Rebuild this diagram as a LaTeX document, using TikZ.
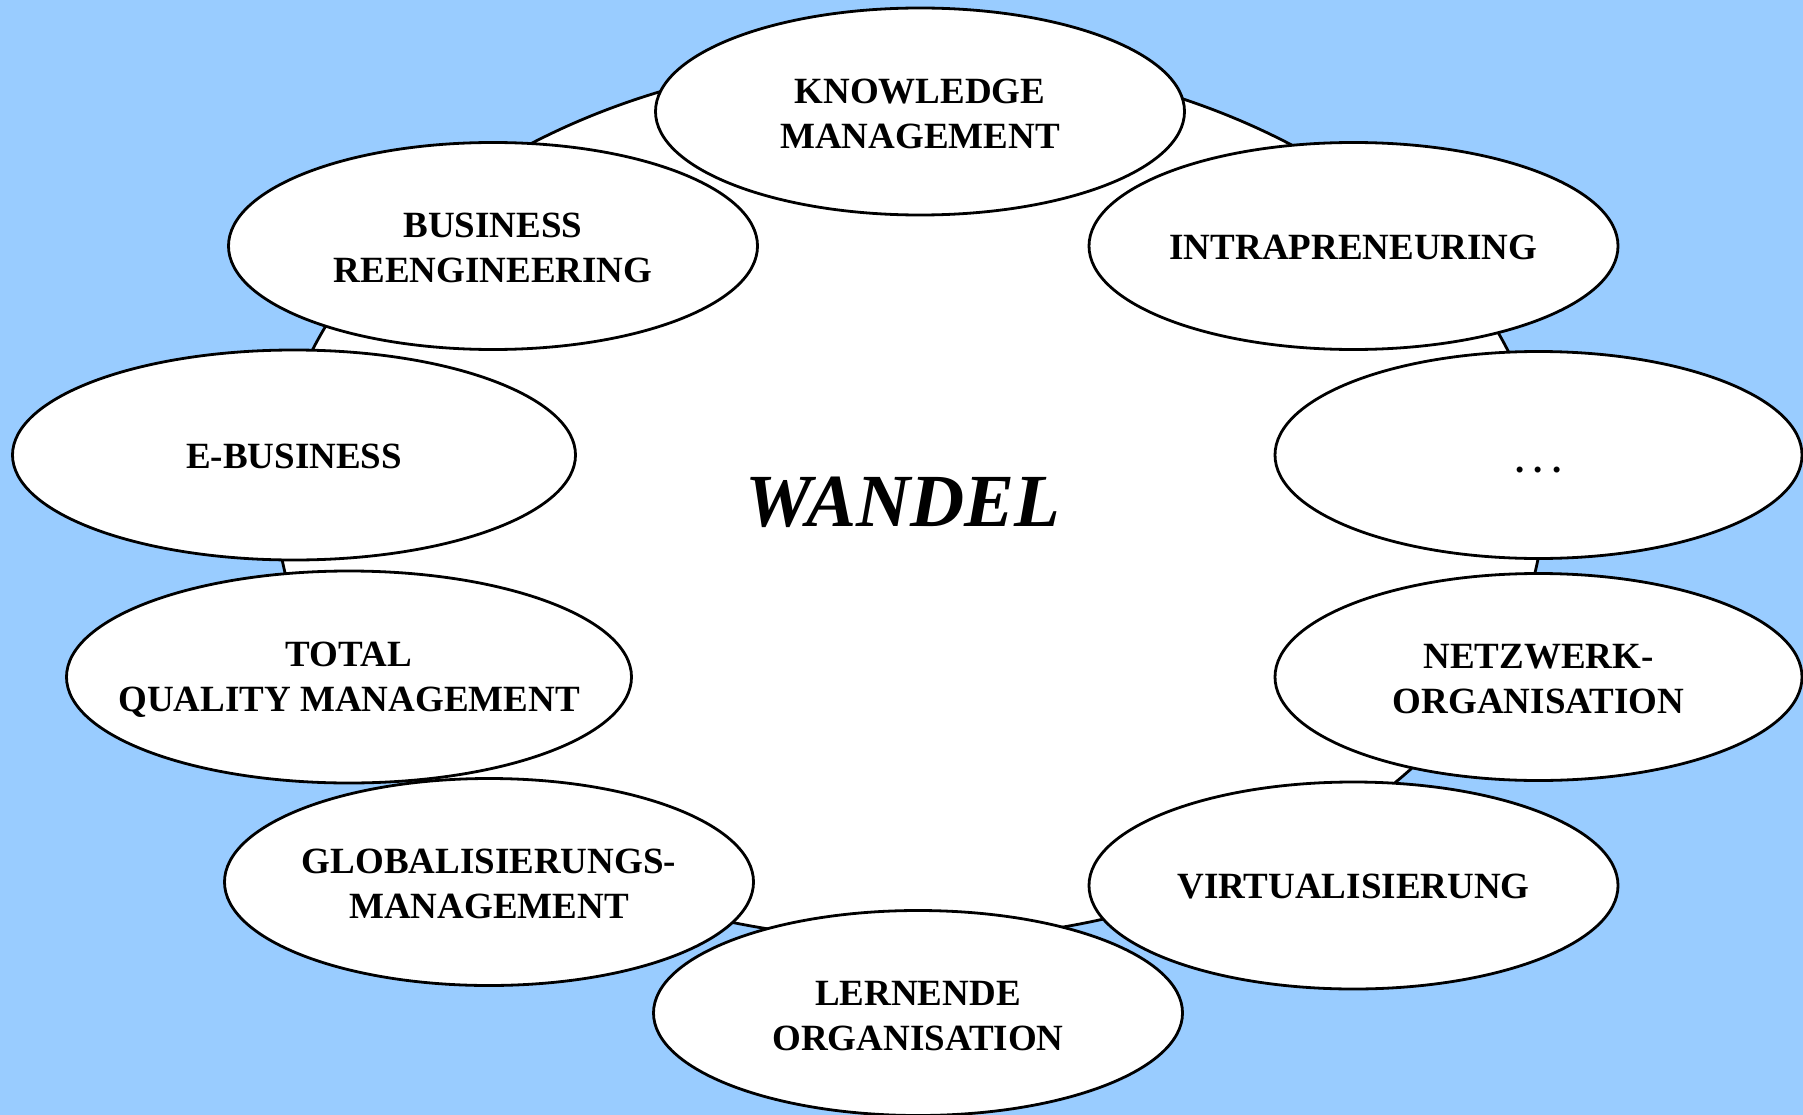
\documentclass[tikz,border=0pt]{standalone}
\usepackage{fontspec}
\setmainfont{Liberation Serif}
\usetikzlibrary{shapes.geometric}
\definecolor{bgblue}{RGB}{153,204,255}
\tikzset{
  bubble/.style={ellipse, draw=black, fill=white, line width=2.8pt, inner sep=0pt, outer sep=0pt},
  std/.style={bubble, minimum width=529pt, minimum height=207pt},
  wide/.style={bubble, minimum width=563pt, minimum height=210pt},
  txt/.style={align=center, inner sep=0pt, font=\bfseries\fontsize{37}{45}\selectfont},
  big/.style={font=\bfseries\itshape\fontsize{75}{90}\selectfont, inner sep=0pt}
}
\begin{document}
\begin{tikzpicture}[x=1pt,y=-1pt]
\fill[bgblue] (0,0) rectangle (1803,1115);
\useasboundingbox (0,0) rectangle (1803,1115);
\draw[fill=white, line width=2.8pt] (910,498) ellipse [x radius=634, y radius=442];

\node[std] (kn) at (920,111.5) {};
\node[std] (intra) at (1353.5,246) {};
\node[std] (bus) at (493,246) {};
\node[wide] (ebus) at (294,455) {};
\node[std, minimum width=527pt] (dots) at (1538.5,455) {};
\node[wide, minimum width=565pt, minimum height=212pt] (tqm) at (349,677) {};
\node[std, minimum width=527pt] (netz) at (1538.5,677) {};
\node[std] (glob) at (489,882) {};
\node[std] (virt) at (1353.5,885.5) {};
\node[std, minimum height=205pt] (lern) at (918,1013) {};

\node[txt] (tkn) at ([yshift=-2pt]kn.center) {KNOWLEDGE\\MANAGEMENT};
\node[txt] (tintra) at ([yshift=-1pt]intra.center) {INTRAPRENEURING};
\node[txt] (tbus) at ([yshift=-2pt]bus.center) {BUSINESS\\REENGINEERING};
\node[txt] (tebus) at ([yshift=-1pt]ebus.center) {E-BUSINESS};
\node[txt] (tdots) at ([yshift=-15pt]dots.center) {.\hspace{0.25em}.\hspace{0.25em}.};
\node[txt] (ttqm) at ([yshift=-3pt]tqm.center) {TOTAL\\QUALITY MANAGEMENT};
\node[txt] (tnetz) at ([yshift=-2pt]netz.center) {NETZWERK-\\ORGANISATION};
\node[txt] (tglob) at ([yshift=-2pt]glob.center) {GLOBALISIERUNGS-\\MANAGEMENT};
\node[txt] (tvirt) at ([yshift=-1pt]virt.center) {VIRTUALISIERUNG};
\node[txt] (tlern) at ([yshift=-3pt]lern.center) {LERNENDE\\ORGANISATION};

\node[big] (wandel) at (903,502) {WANDEL};
\end{tikzpicture}
\end{document}
